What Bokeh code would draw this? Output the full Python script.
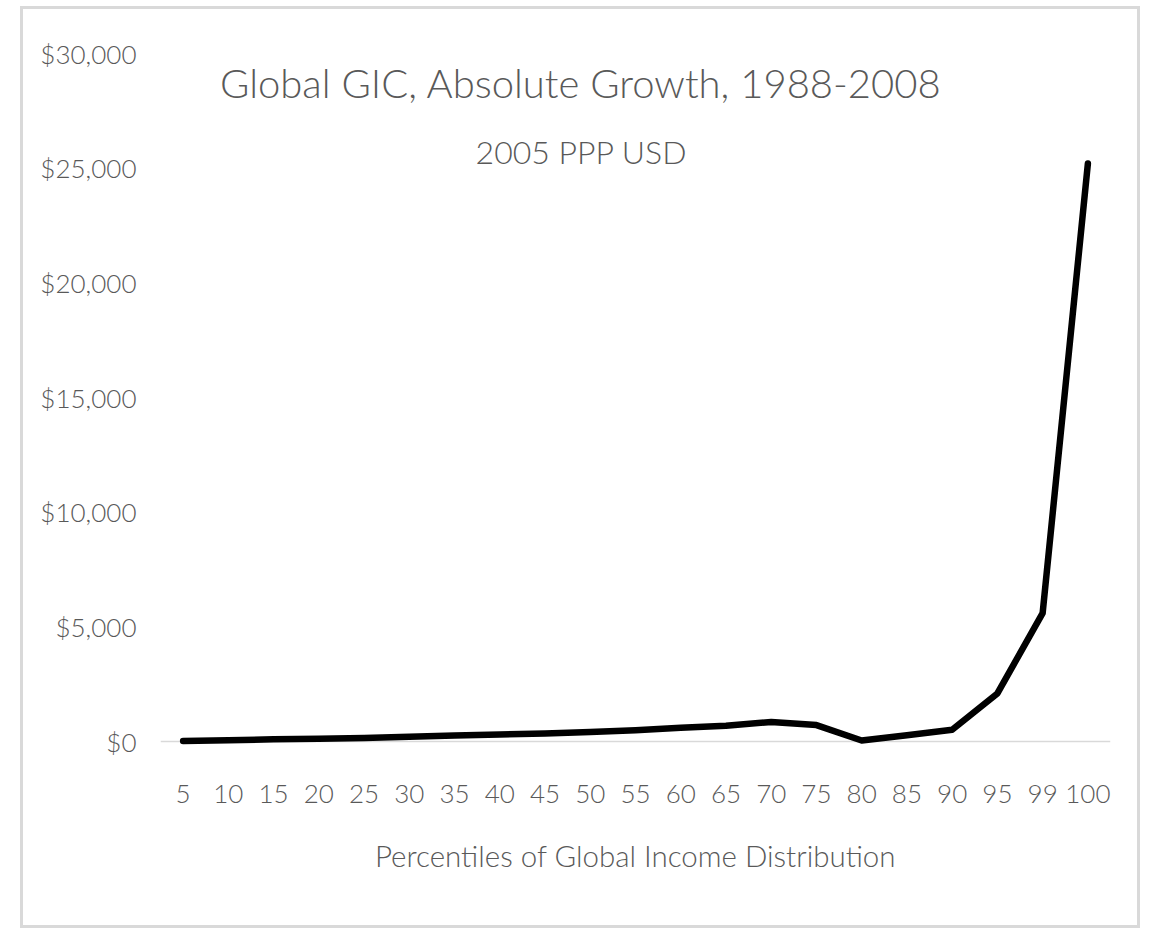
from bokeh.plotting import figure
from bokeh.models import FactorRange, Range1d, FixedTicker, NumeralTickFormatter, Span, Label, ColumnDataSource
from bokeh.embed import file_html
from bokeh.resources import INLINE

# ---- data ----
percentiles = ["5", "10", "15", "20", "25", "30", "35", "40", "45", "50",
               "55", "60", "65", "70", "75", "80", "85", "90", "95", "99", "100"]
growth_usd = [30, 60, 100, 130, 160, 210, 270, 310, 350, 420,
              500, 600, 690, 860, 720, 50, 280, 520, 2100, 5600, 25200]
y_ticks = [0, 5000, 10000, 15000, 20000, 25000, 30000]

title_text = "Global GIC, Absolute Growth, 1988-2008"
subtitle_text = "2005 PPP USD"
x_title = "Percentiles of Global Income Distribution"

FONT = "'Lato Light', Lato, sans-serif"
GRAY = "#595959"

p = figure(
    frame_width=950, frame_height=695,
    x_range=FactorRange(factors=percentiles, range_padding=0),
    y_range=Range1d(-300, 30000),
    output_backend="svg", toolbar_location=None,
    min_border_left=137, min_border_right=27, min_border_top=44, min_border_bottom=177,
)
p.styles = {"border": "3px solid #d9d9d9", "margin-left": "20px", "margin-top": "6px"}
p.outline_line_color = None
p.xgrid.visible = False
p.ygrid.visible = False
p.background_fill_color = "white"
p.border_fill_color = "white"

src = ColumnDataSource(dict(x=percentiles, y=growth_usd))
p.add_layout(Span(location=0, dimension="width", line_color="#d9d9d9", line_width=1.5, level="underlay"))
p.line("x", "y", source=src, line_color="black", line_width=6.5,
       line_cap="round", line_join="round")

# y axis
ya = p.yaxis[0]
ya.ticker = FixedTicker(ticks=y_ticks)
ya.formatter = NumeralTickFormatter(format="$0,0")
ya.axis_line_color = None
ya.major_tick_line_color = None
ya.minor_tick_line_color = None
ya.major_tick_out = 0
ya.major_label_standoff = 24
ya.major_label_text_font = FONT
ya.major_label_text_font_size = "26px"
ya.major_label_text_color = GRAY

# x axis
xa = p.xaxis[0]
xa.axis_line_color = None
xa.major_tick_line_color = None
xa.major_tick_out = 0
xa.major_label_standoff = 36
xa.major_label_text_font = FONT
xa.major_label_text_font_size = "26px"
xa.major_label_text_color = GRAY
xa.axis_label = x_title
xa.axis_label_text_font = FONT
xa.axis_label_text_font_size = "29.5px"
xa.axis_label_text_font_style = "normal"
xa.axis_label_text_color = GRAY
xa.axis_label_standoff = 32

# titles as labels (screen units are relative to the frame's bottom-left)
p.add_layout(Label(x=420.5, y=666, x_units="screen", y_units="screen",
                   text=title_text, text_align="center", text_baseline="alphabetic",
                   text_font=FONT, text_font_size="40px", text_color=GRAY))
p.add_layout(Label(x=421, y=597, x_units="screen", y_units="screen",
                   text=subtitle_text, text_align="center", text_baseline="alphabetic",
                   text_font=FONT, text_font_size="32px", text_color=GRAY))

open("out.html", "w").write(file_html(p, INLINE))
